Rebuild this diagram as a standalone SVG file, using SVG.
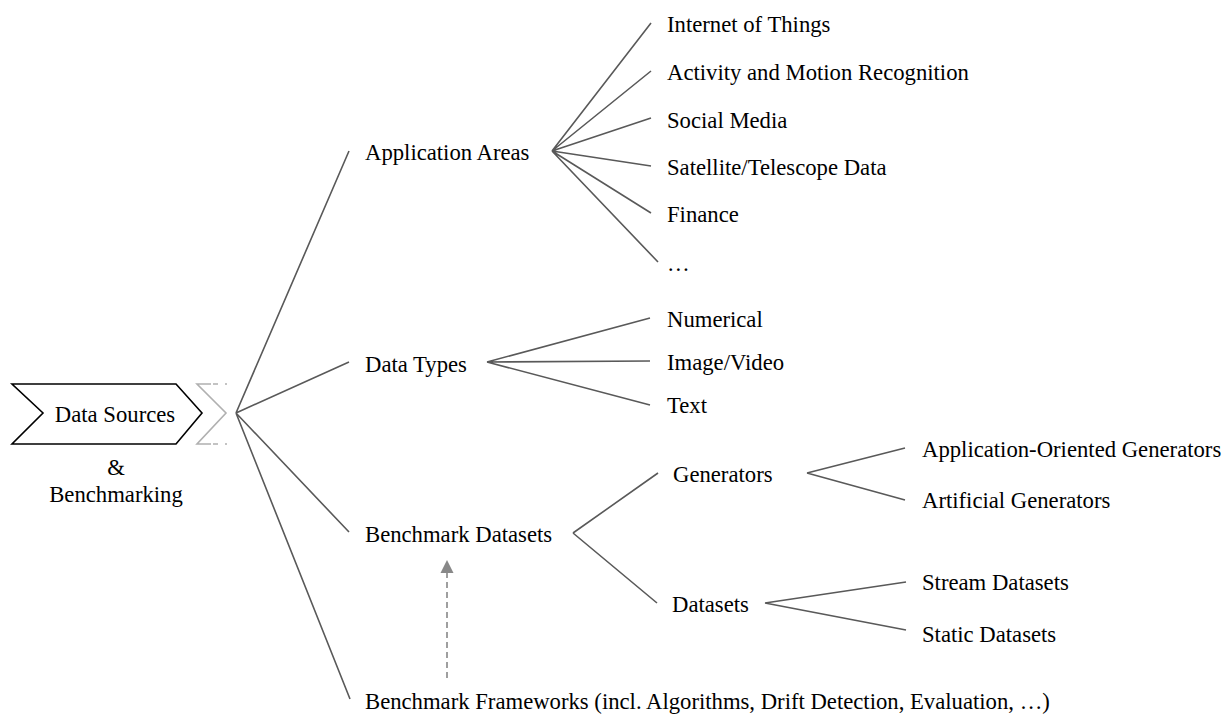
<svg xmlns="http://www.w3.org/2000/svg" width="1226" height="716" viewBox="0 0 1226 716">
<defs>
<style>
.c{fill:none;stroke:#595959;stroke-width:1.6}
</style>
</defs>
<rect width="1226" height="716" fill="#fff"/>
<g id="connectors">
<path class="c" d="M236,413 L349,151 M236,413 L349,362 M236,413 L349,532 M236,413 L350,699"/>
<path class="c" d="M552,151 L651,23 M552,151 L651,71 M552,151 L651,118 M552,151 L651,166 M552,151 L651,213 M552,151 L658,262"/>
<path class="c" d="M487,362 L650,318 M487,362 L650,361 M487,362 L650,405"/>
<path class="c" d="M573,533 L658,473 M573,533 L657,603"/>
<path class="c" d="M807,473 L905,448 M807,473 L905,500"/>
<path class="c" d="M765,603 L906,582 M765,603 L906,630"/>
<line x1="447" y1="678" x2="447" y2="573" stroke="#888" stroke-width="1.6" stroke-dasharray="6,4"/>
<path d="M440.5,573 L447,560 L453.5,573 Z" fill="#888"/>
</g>
<g font-family="Liberation Serif, Times New Roman, serif" font-size="22.7" fill="#000">
<g id="root">
<polygon points="12,384 176,384 202,413 176,444 12,444 43,413" fill="#fff" stroke="#000" stroke-width="1.6"/>
<text x="115" y="422" text-anchor="middle">Data Sources</text>
<path d="M211,384 L197,384 L226,413 L197,444 L211,444" fill="none" stroke="#b0b0b0" stroke-width="1.6"/>
<path d="M213,384 L218,384 M225,384 L227,384 M213,444 L218,444 M225,444 L227,444" fill="none" stroke="#b0b0b0" stroke-width="1.6"/>
<text x="116" y="475" text-anchor="middle">&amp;</text>
<text x="116" y="502" text-anchor="middle">Benchmarking</text>
</g>
<g id="application-areas"><text x="365" y="160">Application Areas</text></g>
<g id="internet-of-things"><text x="667" y="32">Internet of Things</text></g>
<g id="activity"><text x="667" y="80">Activity and Motion Recognition</text></g>
<g id="social-media"><text x="667" y="128">Social Media</text></g>
<g id="satellite"><text x="667" y="175">Satellite/Telescope Data</text></g>
<g id="finance"><text x="667" y="222">Finance</text></g>
<g id="more-areas"><text x="667" y="271">…</text></g>
<g id="data-types"><text x="365" y="372">Data Types</text></g>
<g id="numerical"><text x="667" y="327">Numerical</text></g>
<g id="image-video"><text x="667" y="370">Image/Video</text></g>
<g id="text-type"><text x="667" y="413">Text</text></g>
<g id="benchmark-datasets"><text x="365" y="542">Benchmark Datasets</text></g>
<g id="generators"><text x="673" y="482">Generators</text></g>
<g id="app-generators"><text x="922" y="457">Application-Oriented Generators</text></g>
<g id="artificial-generators"><text x="922" y="508">Artificial Generators</text></g>
<g id="datasets"><text x="672" y="612">Datasets</text></g>
<g id="stream-datasets"><text x="922" y="590">Stream Datasets</text></g>
<g id="static-datasets"><text x="922" y="642">Static Datasets</text></g>
<g id="benchmark-frameworks"><text x="365" y="709">Benchmark Frameworks (incl. Algorithms, Drift Detection, Evaluation, …)</text></g>
</g>
</svg>
